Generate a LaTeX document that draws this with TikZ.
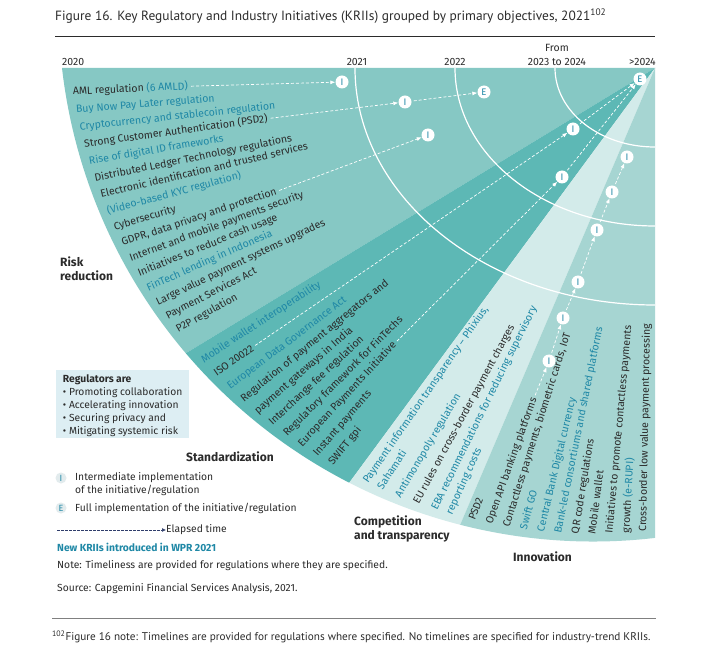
\documentclass[tikz,border=0pt]{standalone}
\usepackage{fontspec}
\setmainfont{Fira Sans}
\newfontfamily\condfont{PT Sans}
\usetikzlibrary{arrows.meta,calc}
\definecolor{riskc}{HTML}{86C8C4}
\definecolor{stdc}{HTML}{5DB8B5}
\definecolor{compc}{HTML}{D3EBEA}
\definecolor{innoc}{HTML}{A6D5D2}
\definecolor{newc}{HTML}{1F88A6}
\definecolor{inkc}{HTML}{2B2B2B}
\definecolor{boxc}{HTML}{DDEEF3}
\definecolor{navyc}{HTML}{2F3D6B}
\definecolor{legmkc}{HTML}{E2EBED}
\newcommand\nw[1]{\textcolor{newc}{#1}}
\begin{document}
\begin{tikzpicture}[x=1pt,y=-1pt,
  lbl/.style={font=\fontsize{10.5}{12}\selectfont,text=inkc,inner sep=1pt,anchor=base west},
  mk/.style={circle,fill=white,inner sep=0pt,minimum size=13pt,text=newc,font=\fontsize{9.5}{10}\selectfont},
  legmk/.style={circle,fill=legmkc,inner sep=0pt,minimum size=11pt,text=newc,font=\fontsize{9}{9}\selectfont},
  flow/.style={white,dash pattern=on 3pt off 2pt,line width=0.7pt,shorten <=2pt,-{Latex[length=5pt,width=4pt]}},
  yr/.style={white,line width=1.2pt},
  yrlbl/.style={font=\fontsize{10.5}{12}\selectfont,text=inkc,inner sep=0pt},
  head/.style={font=\bfseries\fontsize{12}{13.5}\selectfont,text=inkc,align=left,inner sep=0pt},
  leg/.style={font=\fontsize{10.3}{13}\selectfont,text=inkc,align=left,inner sep=0pt}]
  \path[use as bounding box,fill=white] (0,0) rectangle (710,660);
  \coordinate (apex) at (655,68);
  \def\slice(#1,#2)#3{
    \fill[#3] (apex) -- +({180-#1}:900) -- +({180-#2}:900) -- cycle;
  }
  \def\kri#1#2#3{
    \pgfmathsetmacro\kang{#1}
    \pgfmathsetmacro\kdist{10*(6.2*cos(\kang)-6.1*sin(\kang)+sqrt((6.1*sin(\kang)-6.2*cos(\kang))^2+2781.25))-6}
    \node[lbl,rotate=\kang] (#2) at ($(apex)+({180-\kang}:\kdist)$) {#3};
  }

  \node[anchor=base west,inner sep=0pt,text=inkc,font=\condfont\fontsize{13.4}{15}\selectfont] (title) at (55,21)
    {Figure 16. Key Regulatory and Industry Initiatives (KRIIs) grouped by primary objectives, 2021\textsuperscript{102}};
  \draw[inkc,line width=0.8pt] (55,36) -- (655,36);

  \node[yrlbl,anchor=base west] (y0) at (62,66) {2020};
  \node[yrlbl,anchor=base] (y1) at (357,66) {2021};
  \node[yrlbl,anchor=base] (y2) at (455,66) {2022};
  \node[yrlbl,anchor=base] (y3a) at (557,52) {From};
  \node[yrlbl,anchor=base] (y3) at (557,66) {2023 to 2024};
  \node[yrlbl,anchor=base east] (y4) at (656,66) {>2024};

  \begin{scope}
    \clip (apex) -- (62,68) arc[start angle=173.45,end angle=83.3,radius=534.5] -- cycle;
    \slice(0,31.3){riskc}
    \slice(31.3,53.6){stdc}
    \slice(53.6,66.9){compc}
    \slice(66.9,90){innoc}
    \foreach \r in {100,200,300}
      \draw[yr] (apex) +(180:\r) arc[start angle=180,end angle=90,x radius=\r,y radius=0.79*\r];
  \end{scope}

  \foreach \t[count=\i] in {{AML regulation \nw{(6 AMLD)}},{\nw{Buy Now Pay Later regulation}},
    {\nw{Cryptocurrency and stablecoin regulation}},{Strong Customer Authentication (PSD2)},
    {\nw{Rise of digital ID frameworks}},{Distributed Ledger Technology regulations},
    {Electronic identification and trusted services},{\nw{(Video-based KYC regulation)}},
    {Cybersecurity},{GDPR, data privacy and protection},{Internet and mobile payments security},
    {Initiatives to reduce cash usage},{\nw{FinTech lending in Indonesia}},
    {Large value payment systems upgrades},{Payment Services Act},{P2P regulation}} {
    \kri{2.65+1.76*(\i-1)}{r\i}{\t}
  }
  \foreach \t[count=\i] in {{\nw{Mobile wallet interoperability}},{ISO 20022},
    {\nw{European Data Governance Act}},{Regulation of payment aggregators and},
    {payment gateways in India},{Interchange fee regulation},{Regulatory framework for FinTechs},
    {European Payments Initiative},{Instant payments},{SWIFT gpi}} {
    \kri{33.2+1.98*(\i-1)}{s\i}{\t}
  }
  \foreach \a/\t[count=\i] in {55.4/{\nw{Payment information transparency -- Phixius,}},57.2/{\nw{Sahamati}},
    59.4/{\nw{Antimonopoly regulation}},61.6/{EU rules on cross-border payment charges},
    63.8/{\nw{EBA recommendations for reducing supervisory}},65.6/{\nw{reporting costs}}} {
    \kri{\a}{k\i}{\t}
  }
  \foreach \t[count=\i] in {{PSD2},{Open API banking platforms},{Contactless payments, biometric cards, IoT},
    {\nw{Swift GO}},{\nw{Central Bank Digital currency}},{\nw{Bank-led consortiums and shared platforms}},
    {QR code regulations},{Mobile wallet},{Initiatives to promote contactless payments},
    {growth \nw{(e-RUPI)}},{Cross-border low value payment processing}} {
    \kri{68.3+2.06*(\i-1)}{n\i}{\t}
  }

  \foreach \n/\x/\y/\l in {a1/342/82/I,a2/405/102/I,a3/484/92/E,a4/428/135/I,
    b1/573/129/I,b2/562/177/I,e/640/79/E,
    i1/549/361/I,i2/563/318/I,i3/578/282/I,i4/597/230/I,i5/612/192/I,i6/627/157/I}
    \node[mk] (\n) at (\x,\y) {\l};

  \draw[flow] (r1.east) -- (a1);
  \draw[flow] (r4.east) -- (a2);
  \draw[flow] (a2) -- (a3);
  \draw[flow] (r10.east) -- (a4);
  \draw[flow] (s2.east) -- (b1);
  \draw[flow] (b1) -- (e);
  \draw[flow] (s8.east) -- (b2);
  \draw[flow] (b2) -- (e);
  \draw[flow] (n2.east) -- (i1);
  \foreach \p/\q in {i1/i2,i2/i3,i3/i4,i4/i5,i5/i6}
    \draw[flow] (\p) -- (\q);

  \node[head,anchor=west] (riskl) at (60,268.5) {Risk\\reduction};
  \node[head] (stdl) at (230,457) {Standardization};
  \node[head,anchor=west] (compl) at (354,529) {Competition\\and transparency};
  \node[head,anchor=west] (innol) at (513,557) {Innovation};

  \node[leg,fill=boxc,anchor=north west,minimum width=133pt,minimum height=68pt,inner xsep=5pt,text depth=0pt] (regs) at (56,370)
    {\textbf{Regulators are}\\\textbullet{} Promoting collaboration\\\textbullet{} Accelerating innovation\\
     \textbullet{} Securing privacy and\\\textbullet{} Mitigating systemic risk};
  \node[legmk] (lI) at (61,478) {I};
  \node[leg,anchor=west] (lIt) at (75,484.5) {Intermediate implementation\\of the initiative/regulation};
  \node[legmk] (lE) at (61,508) {E};
  \node[leg,anchor=west] (lEt) at (75,508) {Full implementation of the initiative/regulation};
  \coordinate (t0) at (57,530);
  \node[leg,anchor=west] (lt) at (166,530) {Elapsed time};
  \draw[navyc,dash pattern=on 2.5pt off 1.5pt,line width=0.7pt,-{Latex[length=4pt,width=4pt]}] (t0) -- (lt.west);
  \node[leg,anchor=west,text=newc,font=\bfseries\fontsize{10.3}{12}\selectfont] (lnew) at (57,547) {New KRIIs introduced in WPR 2021};
  \node[leg,anchor=west] (note) at (57,566) {Note: Timeliness are provided for regulations where they are specified.};
  \node[leg,anchor=west] (src) at (57,589) {Source: Capgemini Financial Services Analysis, 2021.};

  \draw[gray,line width=0.5pt] (52,618) -- (656,618);
  \node[anchor=base west,inner sep=0pt,text=inkc,font=\condfont\fontsize{11.2}{12}\selectfont] (fn) at (52,640)
    {\textsuperscript{102}Figure 16 note: Timelines are provided for regulations where specified. No timelines are specified for industry-trend KRIIs.};
\end{tikzpicture}
\end{document}
